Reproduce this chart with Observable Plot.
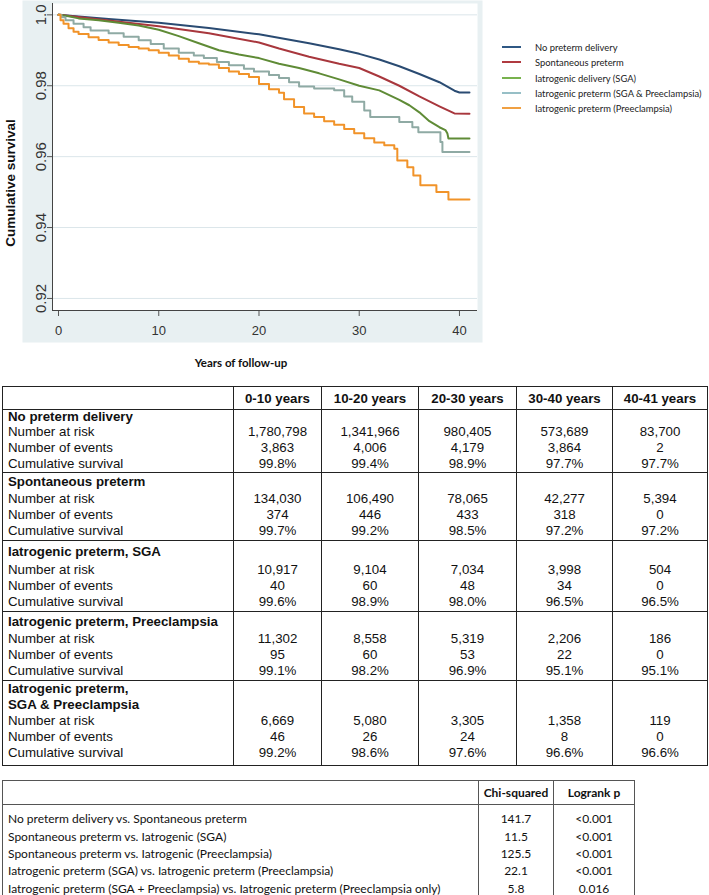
<!DOCTYPE html>
<html><head><meta charset="utf-8">
<script src="https://cdn.jsdelivr.net/npm/d3@7"></script>
<script src="https://cdn.jsdelivr.net/npm/@observablehq/plot@0.6"></script>
<style>
body{margin:0;background:#fff;width:709px;height:895px;position:relative;overflow:hidden;font-family:"Liberation Sans",Arial,sans-serif;color:#111;}
#chart{position:absolute;left:0;top:0;}
#legend{position:absolute;left:502px;top:40px;width:207px;height:80px;font-family:Lato,"Open Sans",sans-serif;font-size:9.4px;color:#222;}
.lg{position:absolute;left:0;height:15px;width:205px;}
.lg .sw{position:absolute;left:0;top:6px;width:19px;height:2px;}
.lg .tx{position:absolute;left:33px;top:0;line-height:15px;white-space:nowrap;}
table{border-collapse:collapse;position:absolute;table-layout:fixed;}
#t1{left:2px;top:386px;width:705px;border:1.4px solid #222;font-size:13.3px;}
#t1 th{font-weight:bold;height:22px;padding:0;text-align:center;border:1px solid #222;}
#t1 td{border-left:1px solid #222;border-right:1px solid #222;border-top:1px solid #222;padding:0 5px;vertical-align:top;text-align:center;}
#t1 td.lab{text-align:left;}
#t1 .ln{height:16px;line-height:16px;white-space:nowrap;}
#t1 .gt{font-weight:bold;white-space:nowrap;}
#t2{left:2px;top:780px;width:632px;border:1.2px solid #555;font-family:Lato,"Open Sans",sans-serif;font-size:12px;}
#t2 th{font-weight:bold;height:23px;border:1px solid #555;text-align:center;padding:0;}
#t2 td{border-left:1px solid #555;border-right:1px solid #555;padding:0 5px;text-align:center;height:17.4px;white-space:nowrap;}
#t2 td.lab{text-align:left;}
#t2 tr.first td{padding-top:5px;}
</style></head>
<body>
<div id="chart"></div>
<div id="legend"></div>
<table id="t1"></table>
<table id="t2"></table>
<script>
// ---------- Kaplan-Meier curves ----------
const seriesNames = ["No preterm delivery","Spontaneous preterm","Iatrogenic delivery (SGA)","Iatrogenic preterm (SGA & Preeclampsia)","Iatrogenic preterm (Preeclampsia)"];
const curveColors = ["#2a4b72","#a8373d","#5f8b36","#8faaa4","#f19329"];
const legendColors = ["#2f5884","#b03a40","#78b24e","#97bfc6","#f0a043"];

const tNo = [0,2,5,10,15,20,25,28,30,32,34,36,38,39.5,40,41];
const vNo = [1.0,0.9995,0.9988,0.9978,0.9963,0.9945,0.9920,0.9903,0.9890,0.9874,0.9855,0.9833,0.9810,0.9786,0.9781,0.9781];

const tSp = [0,2,5,10,15,20,22,25,28,30,32,34,36,38,39.5,41];
const vSp = [1.0,0.9994,0.9984,0.9968,0.9948,0.9922,0.9905,0.9882,0.9862,0.9850,0.9826,0.9800,0.9770,0.9742,0.9722,0.9721];

const tSga = [0,1,2,4,6,8,10,12,14,16,18,20,22,24,26,28,30,32,34,35,36,37,38,38.6,38.8,38.9,41];
const vSga = [1.0,0.9996,0.9990,0.9985,0.9978,0.9970,0.9958,0.9940,0.9920,0.9900,0.9888,0.9878,0.9862,0.9850,0.9835,0.9818,0.9800,0.9787,0.9760,0.9745,0.9725,0.9700,0.9683,0.9675,0.9665,0.9651,0.9651];

const tBoth = [0,0.3,0.7,1.5,2.5,3.2,5,6.5,8,9.2,10.5,12,13.5,14.5,15.8,17,18.5,19.5,21,22,23,24,25.5,27.5,28.5,29.3,30.5,31.1,34,35.3,35.9,38.1,38.3,41];
const vBoth = [1.0,0.9993,0.9985,0.9975,0.9965,0.9956,0.9948,0.9938,0.9928,0.9918,0.9905,0.9893,0.9885,0.9878,0.9867,0.9858,0.9848,0.9840,0.9830,0.9822,0.9810,0.9798,0.9792,0.9787,0.9770,0.9755,0.9730,0.9712,0.9698,0.9683,0.9669,0.9641,0.9613,0.9613];

const tPre = [0,0.2,0.5,1,1.5,2,3,4,5,6,7,8,9,10,11,12,13,14,15,16,17,18,19,20,21,22,22.5,23.5,24.5,25.5,26.5,27.5,28.5,29.5,30.5,31.5,32.5,33.5,33.8,34.8,35.4,36.1,37.7,38.9,41];
const vPre = [1.0,0.9985,0.9975,0.9962,0.9952,0.9946,0.9937,0.9929,0.9922,0.9915,0.9909,0.9905,0.9900,0.9893,0.9885,0.9876,0.9868,0.9863,0.9860,0.9850,0.9840,0.9833,0.9825,0.9805,0.9790,0.9780,0.9762,0.9740,0.9722,0.9712,0.9700,0.9690,0.9678,0.9666,0.9652,0.9640,0.9632,0.9622,0.9589,0.9570,0.9547,0.9519,0.9500,0.9479,0.9479];

const seriesT = [tNo,tSp,tSga,tBoth,tPre];
const seriesV = [vNo,vSp,vSga,vBoth,vPre];
const seriesCurve = ["linear","linear","linear","step-after","step-after"];

const xTicks = [0,10,20,30,40];
const yTicks = [0.92,0.94,0.96,0.98,1.0];
const yTickLabels = ["0.92","0.94","0.96","0.98","1.0"];
const xTitle = "Years of follow-up";
const yTitle = "Cumulative survival";

// ---------- table data ----------
const periods = ["0-10 years","10-20 years","20-30 years","30-40 years","40-41 years"];
const groupTitles = ["No preterm delivery","Spontaneous preterm","Iatrogenic preterm, SGA","Iatrogenic preterm, Preeclampsia","Iatrogenic preterm,\nSGA & Preeclampsia"];
const rowLabels = ["Number at risk","Number of events","Cumulative survival"];
const atRisk = [
  [1780798,1341966,980405,573689,83700],
  [134030,106490,78065,42277,5394],
  [10917,9104,7034,3998,504],
  [11302,8558,5319,2206,186],
  [6669,5080,3305,1358,119]];
const events = [
  [3863,4006,4179,3864,2],
  [374,446,433,318,0],
  [40,60,48,34,0],
  [95,60,53,22,0],
  [46,26,24,8,0]];
const survival = [
  [99.8,99.4,98.9,97.7,97.7],
  [99.7,99.2,98.5,97.2,97.2],
  [99.6,98.9,98.0,96.5,96.5],
  [99.1,98.2,96.9,95.1,95.1],
  [99.2,98.6,97.6,96.6,96.6]];

const compHeaders = ["Chi-squared","Logrank p"];
const comparisons = [
  "No preterm delivery vs. Spontaneous preterm",
  "Spontaneous preterm vs. Iatrogenic (SGA)",
  "Spontaneous preterm vs. Iatrogenic (Preeclampsia)",
  "Iatrogenic preterm (SGA) vs. Iatrogenic preterm (Preeclampsia)",
  "Iatrogenic preterm (SGA + Preeclampsia) vs. Iatrogenic preterm (Preeclampsia only)"];
const chiSquared = [141.7,11.5,125.5,22.1,5.8];
const logrankP = ["<0.001","<0.001","<0.001","<0.001","0.016"];

// ---------- chart ----------
const xDomain = [-0.6, 41.8];
const yDomain = [0.9166, 1.0032];

const curveData = seriesNames.flatMap((s, k) => seriesT[k].map((t, i) => ({series: s, t, v: seriesV[k][i]})));

const lineMarks = seriesNames.map((s, k) =>
  Plot.line(curveData.filter(d => d.series === s), {x: "t", y: "v", stroke: "series", curve: seriesCurve[k], strokeWidth: 2}));

const chart = Plot.plot({
  width: 709, height: 380,
  marginLeft: 52, marginRight: 232, marginTop: 3, marginBottom: 70,
  style: {background: "transparent", fontFamily: "'Liberation Sans', Arial, sans-serif", overflow: "visible", color: "#333"},
  x: {domain: xDomain},
  y: {domain: yDomain},
  color: {domain: seriesNames, range: curveColors},
  marks: [
    Plot.frame({fill: "#e8f0f2", stroke: null, insetLeft: -30, insetRight: -5, insetTop: -3, insetBottom: -32}),
    Plot.frame({fill: "white", stroke: null}),
    Plot.gridY(yTicks, {stroke: "#dbe6ea", strokeOpacity: 1}),
    Plot.axisX(xTicks, {tickSize: 6, tickPadding: 9, fontSize: 13, label: null, stroke: "#555", fontFamily: "'Liberation Sans Narrow', 'Liberation Sans', sans-serif"}),
    Plot.axisY(yTicks, {tickFormat: d => yTickLabels[yTicks.indexOf(d)], tickRotate: -90, tickSize: 5, tickPadding: 2, fontSize: 15, label: null, stroke: "#555"}),
    Plot.ruleX([xDomain[0]], {stroke: "#444"}),
    Plot.ruleY([yDomain[0]], {stroke: "#444"}),
    ...lineMarks,
    Plot.text([xTitle], {text: d => d, frameAnchor: "bottom", lineAnchor: "middle", textAnchor: "middle", dy: 53, dx: -24, fontWeight: "bold", fontSize: 11.5, fill: "#111", fontFamily: "Lato, 'Open Sans', sans-serif"}),
    Plot.text([yTitle], {text: d => d, frameAnchor: "left", textAnchor: "middle", lineAnchor: "middle", rotate: -90, dx: -42, dy: 26, fontWeight: "bold", fontSize: 13.5, fill: "#111"})
  ]
});
document.getElementById("chart").appendChild(chart);

// ---------- legend ----------
const lg = document.getElementById("legend");
seriesNames.forEach((s, k) => {
  const row = document.createElement("div");
  row.className = "lg";
  row.style.top = Math.round(k * 15.3) + "px";
  row.innerHTML = `<span class="sw" style="background:${legendColors[k]}"></span><span class="tx">${s}</span>`;
  lg.appendChild(row);
});

// ---------- table 1 ----------
const fmt = d3.format(",");
const colW = [231, 88, 97, 98, 96, 95];
const grpLayout = [
  {titleH: 14, pad: 0},
  {titleH: 18, pad: 1},
  {titleH: 21, pad: 1},
  {titleH: 19, pad: 1},
  {titleH: 32, pad: 4}];
let h1 = `<colgroup>${colW.map(w => `<col style="width:${w}px">`).join("")}</colgroup>`;
h1 += `<tr><th></th>${periods.map(p => `<th>${p}</th>`).join("")}</tr>`;
groupTitles.forEach((g, gi) => {
  const L = grpLayout[gi];
  const lines = g.split("\n");
  const title = `<div class="gt" style="height:${L.titleH}px;line-height:${L.titleH / lines.length}px">${lines.join("<br>")}</div>`;
  const padDiv = `<div style="height:${L.pad}px"></div>`;
  let row = `<tr><td class="lab">${title}${rowLabels.map(r => `<div class="ln">${r}</div>`).join("")}${padDiv}</td>`;
  periods.forEach((p, pi) => {
    row += `<td><div style="height:${L.titleH}px"></div><div class="ln">${fmt(atRisk[gi][pi])}</div><div class="ln">${fmt(events[gi][pi])}</div><div class="ln">${survival[gi][pi].toFixed(1)}%</div>${padDiv}</td>`;
  });
  h1 += row + `</tr>`;
});
document.getElementById("t1").innerHTML = h1;

// ---------- table 2 ----------
let h2 = `<colgroup><col style="width:476px"><col style="width:75px"><col style="width:81px"></colgroup>`;
h2 += `<tr><th></th>${compHeaders.map(h => `<th>${h}</th>`).join("")}</tr>`;
comparisons.forEach((c, i) => {
  h2 += `<tr class="${i === 0 ? "first" : ""}"><td class="lab">${c}</td><td>${chiSquared[i].toFixed(1)}</td><td>${logrankP[i]}</td></tr>`;
});
document.getElementById("t2").innerHTML = h2;
</script>
</body></html>
